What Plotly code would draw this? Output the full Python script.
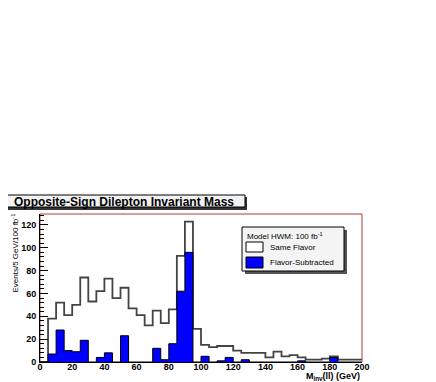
import plotly.graph_objects as go

# ---- data ----
bin_edges = list(range(0, 205, 5))
same_flavor = [0, 38, 52, 41, 50, 74, 53, 62, 73, 56,
               65, 47, 41, 32, 45, 34, 46, 93, 123, 29,
               15, 13, 14, 14, 10, 8, 8, 8, 4, 9,
               5, 6, 4, 2, 2, 3, 5, 2, 2, 2]
flavor_subtracted = [0, 7, 28, 10, 9, 19, 0, 4, 8, 0,
                     23, 0, 0, 0, 12, 2, 16, 62, 96, 0,
                     5, 0, 1, 4, 0, 2, 0, 0, 0, 0,
                     0, 0, 1, 0, 0, 0, 4, 0, 0, 0]
x_ticks = list(range(0, 201, 20))
y_ticks = list(range(0, 121, 20))

title_text = "Opposite-Sign Dilepton Invariant Mass"
legend_header = "Model HWM: 100 fb<sup>-1</sup>"
legend_names = ["Same Flavor", "Flavor-Subtracted"]
ytitle = "Events/5 GeV/100 fb<sup>-1</sup>"
xtitle = "M<sub>inv</sub>(ll) (GeV)"

# ---- layout geometry (page pixels; the page body has an 8px margin) ----
PAGE_W, PAGE_H = 436, 382
OFF = 8
L, R, T, B = 40, 362, 214, 362


def px(x):
    return (x - L) / (R - L)


def py(y):
    return (B - y) / (B - T)


FONT = "Liberation Sans, Arial, Helvetica, sans-serif"

fig = go.Figure()
fig.add_trace(go.Scatter(
    x=bin_edges, y=same_flavor + [same_flavor[-1]], mode="lines",
    line=dict(shape="hv", color="#444444", width=1.8),
    fill="tozeroy", fillcolor="white", hoverinfo="skip", showlegend=False))
fig.add_trace(go.Scatter(
    x=bin_edges, y=flavor_subtracted + [flavor_subtracted[-1]], mode="lines",
    line=dict(shape="hv", color="black", width=1),
    fill="tozeroy", fillcolor="#0000ff", hoverinfo="skip", showlegend=False))

shapes = []
# frame (red)
shapes.append(dict(type="rect", xref="paper", yref="paper", x0=0, x1=1, y0=0, y1=1,
                   line=dict(color="#b03a3a", width=1), layer="below"))
# title box with shadow
shapes.append(dict(type="rect", xref="paper", yref="paper",
                   x0=px(6), x1=px(247), y0=py(210), y1=py(197),
                   line=dict(width=0), fillcolor="#333333"))
shapes.append(dict(type="rect", xref="paper", yref="paper",
                   x0=px(4), x1=px(245), y0=py(207), y1=py(195),
                   line=dict(color="black", width=1), fillcolor="#f2f2f2"))
# legend box with shadow
shapes.append(dict(type="rect", xref="paper", yref="paper",
                   x0=px(245), x1=px(347), y0=py(274), y1=py(230),
                   line=dict(width=0), fillcolor="#555555"))
shapes.append(dict(type="rect", xref="paper", yref="paper",
                   x0=px(242), x1=px(344), y0=py(271), y1=py(227),
                   line=dict(color="black", width=1), fillcolor="#f4f4f4"))
# legend swatches
shapes.append(dict(type="rect", xref="paper", yref="paper",
                   x0=px(246), x1=px(263), y0=py(252), y1=py(242),
                   line=dict(color="black", width=1), fillcolor="white"))
shapes.append(dict(type="rect", xref="paper", yref="paper",
                   x0=px(246), x1=px(263), y0=py(268), y1=py(257),
                   line=dict(color="black", width=1), fillcolor="#0000ff"))

annotations = [
    dict(text=title_text, xref="paper", yref="paper", x=px(124), y=py(201.5),
         xanchor="center", yanchor="middle", showarrow=False,
         font=dict(family=FONT, size=12, color="black", weight="bold")),
    dict(text=legend_header, xref="paper", yref="paper", x=px(245), y=py(236),
         xanchor="left", yanchor="middle", showarrow=False,
         font=dict(family=FONT, size=8, color="black")),
    dict(text=legend_names[0], xref="paper", yref="paper", x=px(268), y=py(247),
         xanchor="left", yanchor="middle", showarrow=False,
         font=dict(family=FONT, size=8, color="black")),
    dict(text=legend_names[1], xref="paper", yref="paper", x=px(268), y=py(262.5),
         xanchor="left", yanchor="middle", showarrow=False,
         font=dict(family=FONT, size=8, color="black")),
    dict(text=ytitle, xref="paper", yref="paper", x=px(14), y=py(212),
         xanchor="center", yanchor="top", textangle=-90, showarrow=False,
         font=dict(family=FONT, size=8, color="black")),
    dict(text=xtitle, xref="paper", yref="paper", x=1, y=py(376.5),
         xanchor="right", yanchor="middle", showarrow=False,
         font=dict(family=FONT, size=9, color="black", weight="bold")),
]

fig.update_layout(
    width=PAGE_W - OFF, height=PAGE_H - OFF,
    margin=dict(l=L - OFF, r=PAGE_W - R, t=T - OFF, b=PAGE_H - B, pad=0, autoexpand=False),
    paper_bgcolor="white", plot_bgcolor="rgba(0,0,0,0)",
    shapes=shapes, annotations=annotations,
    showlegend=False,
    xaxis=dict(range=[0, 200], tickvals=x_ticks, ticks="", showgrid=False,
               zeroline=False, showline=True, linecolor="black", linewidth=1,
               automargin=False, ticklabelstandoff=-4,
               tickfont=dict(family=FONT, size=9, color="black", weight="bold")),
    yaxis=dict(range=[0, 129.6], tickvals=y_ticks, ticks="inside", ticklen=8,
               tickcolor="black", tickwidth=1, showgrid=False, zeroline=False,
               showline=True, linecolor="black", linewidth=1,
               automargin=False, ticklabelstandoff=1,
               minor=dict(ticks="inside", ticklen=4, dtick=4, tickcolor="black",
                          showgrid=False),
               tickfont=dict(family=FONT, size=9, color="black", weight="bold")),
)

fig.write_html("out.html")
